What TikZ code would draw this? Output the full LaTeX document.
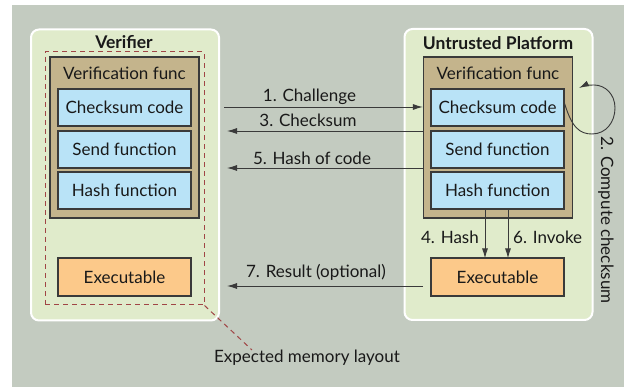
\documentclass[tikz,border=0pt]{standalone}
\usepackage{fontspec}
\setmainfont{Lato}
\usetikzlibrary{arrows.meta}
\definecolor{bgc}{HTML}{C3CBC0}
\definecolor{panelc}{HTML}{E0EBCB}
\definecolor{tanc}{HTML}{C4B48C}
\definecolor{bluec}{HTML}{B9E3F7}
\definecolor{orangec}{HTML}{FCC98A}
\definecolor{redc}{HTML}{A04545}
\definecolor{linec}{HTML}{3A3A3A}
\tikzset{
  txt/.style={font=\fontsize{17}{20}\selectfont, text=black!90, inner sep=0pt},
  panel/.style={draw=white, line width=2pt, fill=panelc, rounded corners=8pt, minimum width=188pt, minimum height=291pt, inner sep=0pt},
  vfbox/.style={draw=linec, line width=1.2pt, fill=tanc, minimum width=149pt, minimum height=161pt, inner sep=0pt},
  fbox/.style={txt, draw=linec, line width=1.2pt, fill=bluec, minimum width=133pt, minimum height=37pt},
  ebox/.style={txt, draw=linec, line width=1.2pt, fill=orangec, minimum width=133pt, minimum height=38pt},
  conn/.style={draw=linec, line width=0.9pt, -{Latex[length=10pt,width=6pt]}},
  ttl/.style={txt, font=\fontsize{17.5}{20}\selectfont\bfseries}
}
\begin{document}
\begin{tikzpicture}[x=1pt,y=-1pt]
\useasboundingbox (0,0) rectangle (624,387);
\fill[bgc] (12,5) rectangle (624,387);
% panels
\node[panel] (pL) at (125,175) {};
\node[panel] (pR) at (498.5,174.5) {};
\node[ttl] (tL) at (124,42) {Verifier};
\node[ttl] (tR) at (498,43) {Untrusted Platform};
% left
\node[vfbox] (vfL) at (124.5,137.5) {};
\node[txt] (vflL) at (124.5,73) {Verification func};
\node[fbox] (ckL) at (124.5,107.5) {Checksum code};
\node[fbox] (sfL) at (124.5,149.5) {Send function};
\node[fbox] (hfL) at (124.5,190.5) {Hash function};
\node[ebox] (exL) at (124.5,277) {Executable};
\node[draw=redc, line width=1pt, dash pattern=on 5pt off 4pt, minimum width=159pt, minimum height=253pt, inner sep=0pt] (mem) at (124.5,178.5) {};
% right
\node[vfbox] (vfR) at (498,137.5) {};
\node[txt] (vflR) at (498,73) {Verification func};
\node[fbox] (ckR) at (497.5,107.5) {Checksum code};
\node[fbox] (sfR) at (497.5,149.5) {Send function};
\node[fbox] (hfR) at (497.5,190.5) {Hash function};
\node[ebox] (exR) at (497.5,277) {Executable};
% free ends
\coordinate (a1) at (224,107);
\coordinate (a3) at (227,131);
\coordinate (a5) at (227,168);
\coordinate (a7) at (227,286);
\coordinate (b7) at (423,286);
\coordinate (memend) at (252,350);
% arrows
\draw[conn] (a1) -- (vfR.west |- a1);
\draw[conn] (vfR.west |- a3) -- (a3);
\draw[conn] (vfR.west |- a5) -- (a5);
\draw[conn] (b7) -- (a7);
\node[txt] (l1) at (309.5,96.5) {1. Challenge};
\node[txt] (l3) at (308,120) {3. Checksum};
\node[txt] (l5) at (312,158) {5. Hash of code};
\node[txt] (l7) at (316,272) {7. Result (optional)};
\draw[conn] (hfR.south -| 485,0) -- ([yshift=-1pt]exR.north -| 485,0);
\draw[conn] (hfR.south -| 508,0) -- ([yshift=-1pt]exR.north -| 508,0);
\node[txt, anchor=east] (l4) at (479,237) {4. Hash};
\node[txt, anchor=west] (l6) at (513,237) {6. Invoke};
% loop
\draw[conn] ([yshift=4pt]ckR.east) .. controls (572,128) and (580,134) .. (592,134)
  .. controls (606,134) and (615,122) .. (615,108)
  .. controls (615,94) and (605,85) .. (594,85)
  .. controls (588,85) and (583,86) .. (579,88);
\node[txt, rotate=-90] (l2) at (606,220) {2. Compute checksum};
% memory layout
\draw[draw=redc, line width=1pt, dash pattern=on 5pt off 4pt] (mem.south east) -- (memend);
\node[txt] (lm) at (307,358) {Expected memory layout};
\end{tikzpicture}
\end{document}
